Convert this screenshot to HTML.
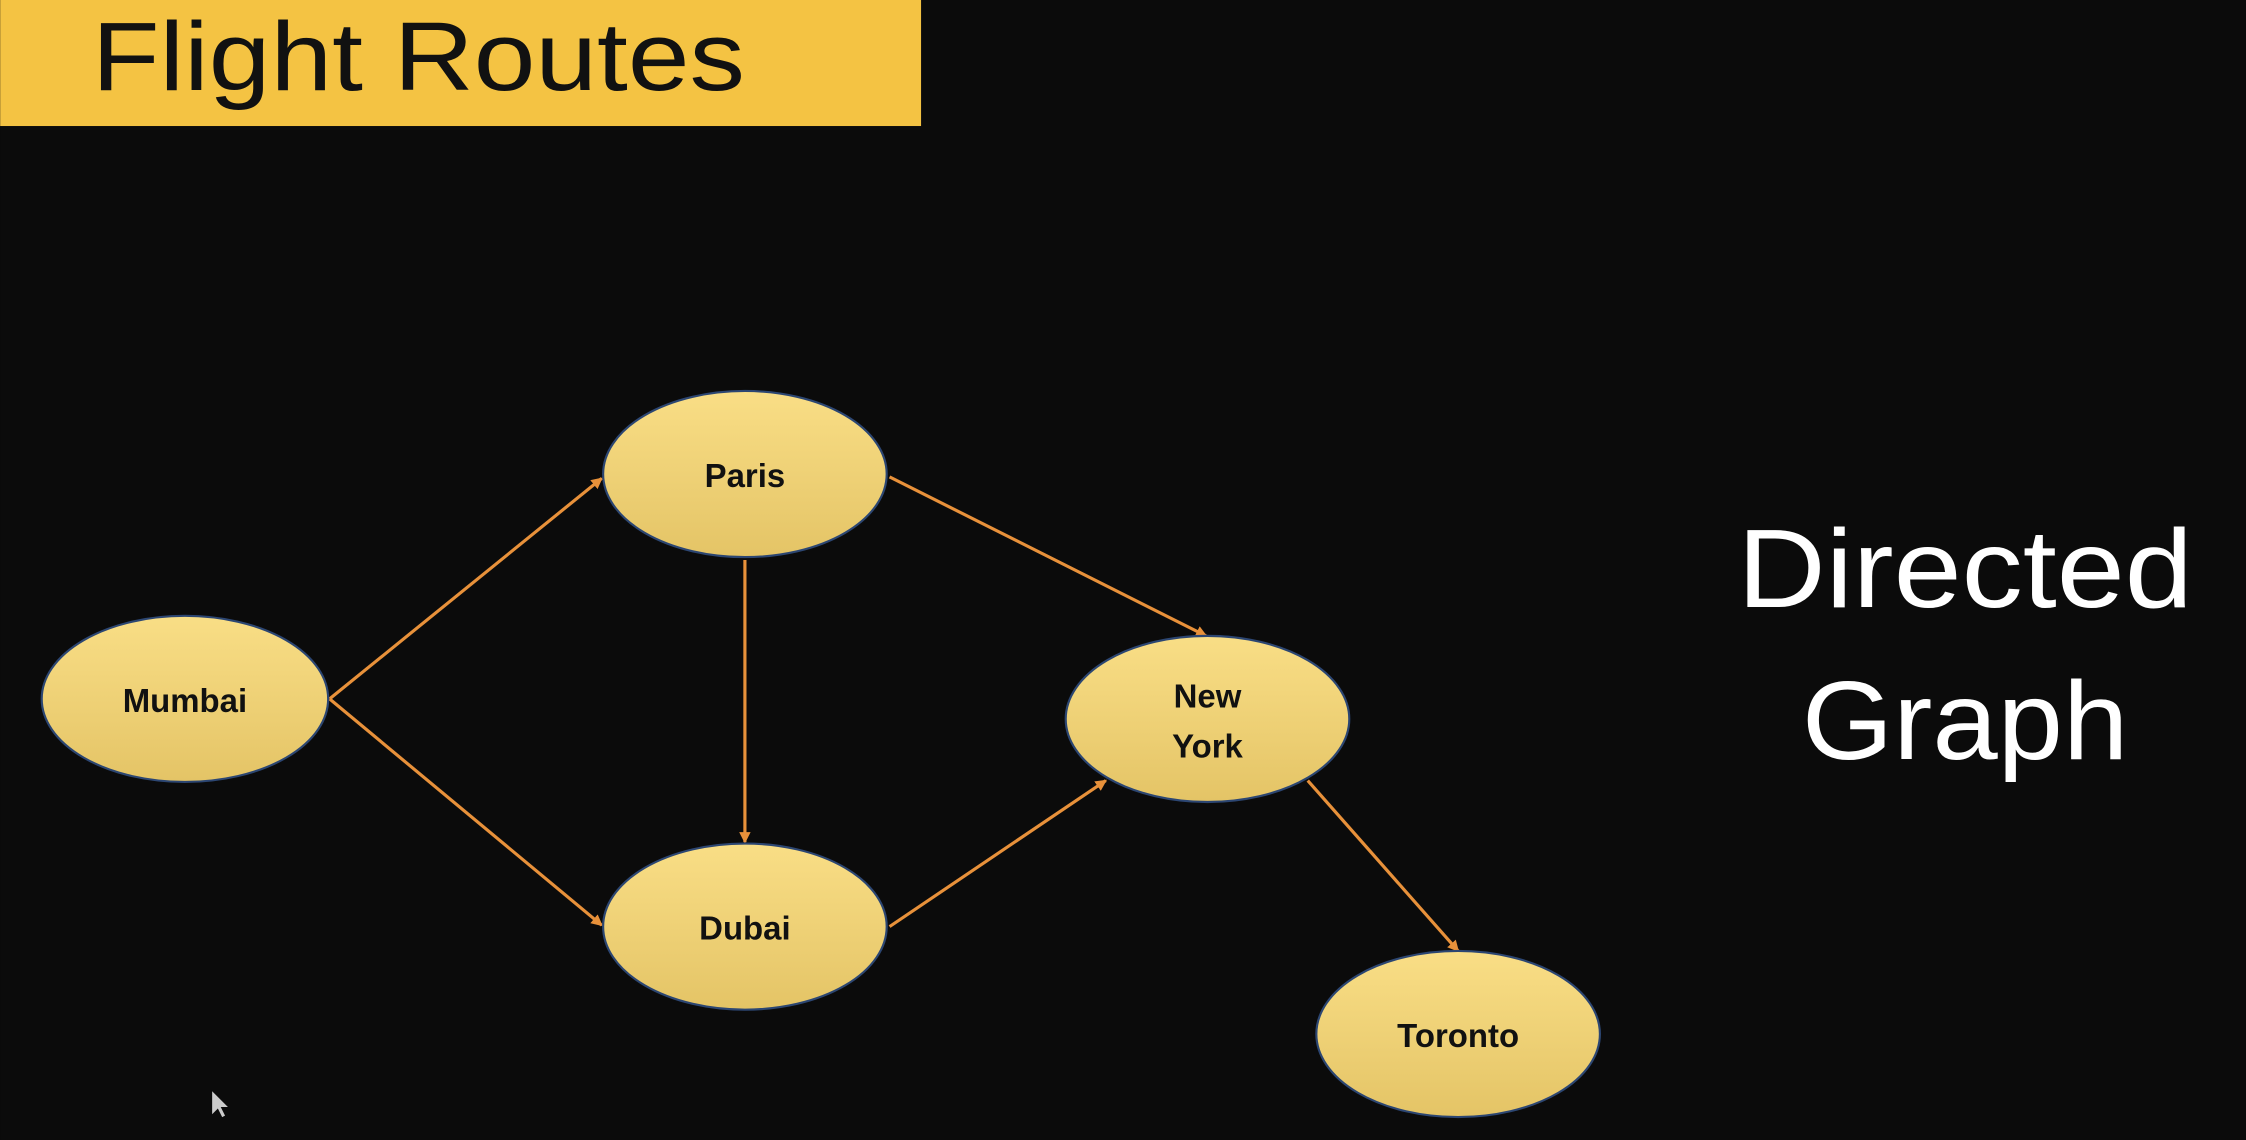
<!DOCTYPE html>
<html><head><meta charset="utf-8"><style>
html,body{margin:0;padding:0;background:#0b0b0b;}
svg{display:block;}
</style></head><body>
<svg width="2246" height="1140" viewBox="0 0 1568 796" xmlns="http://www.w3.org/2000/svg">
<defs>
<linearGradient id="g" x1="0" y1="0" x2="0" y2="1">
<stop offset="0" stop-color="#f9de86"/><stop offset="1" stop-color="#e4c466"/>
</linearGradient>
<marker id="a" markerWidth="8" markerHeight="8" refX="7" refY="4" orient="auto" markerUnits="userSpaceOnUse">
<path d="M0,0 L8,4 L0,8 z" fill="#e8913a"/>
</marker>
</defs>
<rect width="1568" height="796" fill="#0b0b0b"/>
<rect x="0" y="0" width="643" height="88" fill="#f4c343"/>
<text x="64" y="63" font-family="Liberation Sans, sans-serif" font-size="68" fill="#111" textLength="456" lengthAdjust="spacingAndGlyphs">Flight Routes</text>
<g stroke="#e8913a" stroke-width="2.2" fill="none" marker-end="url(#a)">
<line x1="230" y1="488" x2="420" y2="334"/>
<line x1="230" y1="488" x2="420" y2="646"/>
<line x1="520" y1="391" x2="520" y2="588"/>
<line x1="621" y1="333" x2="842" y2="444"/>
<line x1="621" y1="647" x2="772" y2="545"/>
<line x1="913" y1="545" x2="1018" y2="664"/>
</g>
<g fill="url(#g)" stroke="#2c4672" stroke-width="1.5">
<ellipse cx="129" cy="488" rx="100" ry="58"/>
<ellipse cx="520" cy="331" rx="99" ry="58"/>
<ellipse cx="520" cy="647" rx="99" ry="58"/>
<ellipse cx="843" cy="502" rx="99" ry="58"/>
<ellipse cx="1018" cy="722" rx="99" ry="58"/>
</g>
<g font-family="Liberation Sans, sans-serif" font-weight="bold" font-size="23" fill="#111" text-anchor="middle">
<text x="129" y="497">Mumbai</text>
<text x="520" y="340">Paris</text>
<text x="520" y="656">Dubai</text>
<text x="843" y="494">New</text>
<text x="843" y="529">York</text>
<text x="1018" y="731">Toronto</text>
</g>
<g font-family="Liberation Sans, sans-serif" font-size="78" fill="#fff">
<text x="1213" y="424" textLength="318" lengthAdjust="spacingAndGlyphs">Directed</text>
<text x="1258" y="530" textLength="228" lengthAdjust="spacingAndGlyphs">Graph</text>
</g>
<path d="M148,762 L148,778 L152,774 L155,780 L157,779 L154,773 L159,773 z" fill="#ccc"/>
</svg>
</body></html>
